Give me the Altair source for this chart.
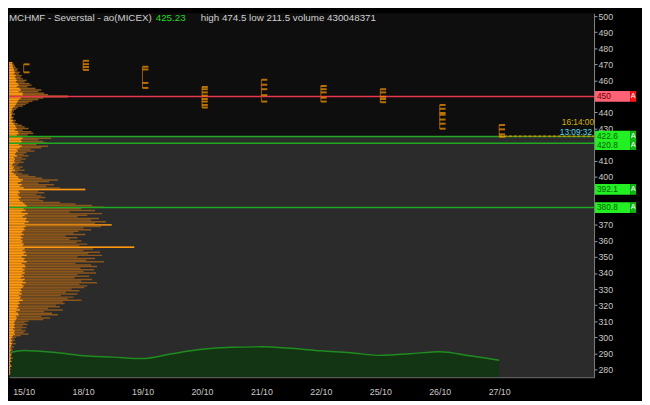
import altair as alt
import pandas as pd

# ---------------- data ----------------
days = ["15/10", "18/10", "19/10", "20/10", "21/10", "22/10", "25/10", "26/10", "27/10"]
day_high = [470.0, 472.2, 468.5, 455.9, 460.4, 456.5, 454.5, 444.7, 432.2]
day_low = [465.0, 466.5, 455.3, 443.1, 446.8, 446.8, 446.4, 429.9, 424.9]

tick_day = [0, 0,
            1, 1, 1, 1,
            2, 2, 2, 2,
            3, 3, 3, 3, 3, 3, 3, 3,
            4, 4, 4, 4, 4,
            5, 5, 5, 5, 5,
            6, 6, 6, 6, 6,
            7, 7, 7, 7, 7, 7, 7,
            8, 8, 8, 8]
tick_price = [465.0, 470.0,
              472.2, 470.1, 468.3, 466.5,
              468.5, 466.8, 458.4, 455.3,
              455.9, 454.5, 452.5, 450.5, 448.4, 446.8, 444.7, 443.1,
              460.4, 457.3, 454.5, 450.8, 446.8,
              456.5, 454.5, 452.5, 449.2, 446.8,
              454.5, 452.5, 449.8, 448.4, 446.4,
              444.7, 442.3, 439.7, 438.6, 435.6, 433.0, 429.9,
              432.2, 429.5, 426.4, 424.9]

# volume (bottom area), sampled every half day
vol_idx = [-0.24, 0, 0.5, 1, 1.5, 2, 2.5, 3, 3.5, 4, 4.5, 5, 5.5, 6, 6.5, 7, 7.5, 8]
vol_val = [250, 273, 255, 220, 205, 190, 240, 285, 305, 310, 295, 270, 250, 223, 240, 260, 220, 173]

# volume-at-price profile, price levels 471 .. 277
prof_price = list(range(471, 276, -1))
profile_total = [
    4, 5, 6, 7, 9, 8, 11, 10, 13, 12,
    14, 18, 16, 21, 23, 19, 27, 33, 30, 36,
    40, 60, 35, 30, 24, 20, 17, 14, 9, 7,
    5, 4, 6, 3, 5, 4, 7, 6, 9, 13,
    16, 20, 14, 23, 25, 19, 27, 43, 30, 35,
    38, 28, 40, 33, 22, 26, 18, 15, 20, 13,
    17, 12, 15, 10, 8, 14, 11, 16, 9, 13,
    20, 27, 34, 50, 41, 30, 46, 38, 52, 78,
    30, 36, 28, 33, 37, 31, 35, 52, 68, 85,
    97, 74, 88, 62, 95, 80, 70, 92, 84, 99,
    88, 105, 94, 76, 84, 71, 66, 78, 58, 70,
    62, 74, 69, 80, 72, 128, 86, 76, 93, 81,
    95, 70, 88, 79, 97, 68, 84, 90, 73, 87,
    76, 89, 70, 82, 67, 85, 74, 90, 72, 80,
    77, 64, 72, 58, 70, 53, 66, 60, 74, 55,
    57, 48, 52, 40, 55, 36, 44, 50, 33, 42,
    35, 20, 16, 19, 14, 18, 13, 17, 15, 20,
    12, 7, 5, 6, 4, 7, 3, 5, 3, 4,
    2, 3, 3, 2, 4, 2, 3, 1, 2, 3,
    1, 2, 1, 2, 1]
profile_bright = [
    3, 3, 4, 4, 5, 5, 6, 5, 7, 6,
    7, 8, 7, 9, 10, 8, 11, 12, 10, 14,
    14, 60, 12, 10, 9, 8, 7, 6, 4, 3,
    3, 2, 3, 2, 3, 2, 4, 3, 5, 6,
    7, 8, 6, 9, 10, 8, 11, 14, 12, 13,
    12, 10, 13, 11, 8, 9, 7, 6, 8, 5,
    6, 5, 6, 4, 3, 5, 4, 6, 3, 5,
    7, 9, 10, 14, 12, 9, 13, 11, 15, 78,
    10, 11, 9, 10, 12, 10, 11, 14, 16, 18,
    18, 15, 17, 13, 19, 16, 14, 18, 17, 20,
    16, 105, 17, 15, 16, 14, 13, 15, 12, 14,
    12, 14, 13, 15, 14, 128, 16, 14, 17, 15,
    18, 13, 16, 15, 18, 13, 16, 17, 14, 16,
    14, 16, 13, 15, 12, 16, 14, 17, 13, 15,
    14, 12, 13, 11, 13, 10, 12, 11, 14, 10,
    11, 9, 10, 8, 11, 7, 9, 10, 7, 8,
    7, 6, 5, 6, 5, 6, 4, 6, 5, 6,
    4, 3, 2, 3, 2, 3, 2, 2, 1, 2,
    1, 1, 2, 1, 2, 1, 2, 1, 1, 2,
    1, 1, 1, 1, 1]

line_levels = [450.0, 425.0, 420.8, 380.8]
line_kind = ["red", "green", "green", "green"]

box_pos = [420.0, 450.0, 425.3, 392.1, 380.8]
box_text = ["420.8", "450", "422.6", "392.1", "380.8"]
box_kind = ["green", "red", "green", "green", "green"]
box_front = [0, 1, 1, 1, 1]

current_price = 425.23
last_time = "16:14:00"
server_time = "13:09:32"
title_name = "MCHMF - Severstal - ao(MICEX)"
title_price = "425.23"
title_stats = "high 474.5 low 211.5 volume 430048371"
price_ticks = list(range(280, 501, 10))
covered_ticks = [450, 420, 390, 380]   # axis labels hidden behind the alert boxes

# ---------------- layout ----------------
W, H = 598, 372
FONT = "Liberation Sans"
yscale = alt.Scale(domain=[275.12, 501.83], nice=False, zero=False)
xscale = alt.Scale(domain=[-0.247, 9.597], nice=False, zero=False)
pscale = alt.Scale(domain=[0, 598], nice=False)
vscale = alt.Scale(domain=[0, 3720], nice=False)

label_expr = "[" + ",".join(f"'{d}'" for d in days) + "][datum.value]"
ylabel_expr = "indexof([" + ",".join(str(v) for v in covered_ticks) + "], datum.value) >= 0 ? '' : datum.label"
xaxis = alt.Axis(values=list(range(len(days))), labelExpr=label_expr, title=None,
                 labelColor="#c8c8c8", labelFont=FONT, labelFontSize=9, ticks=False,
                 domainColor="#8a8a8a", labelPadding=11, grid=False, labelFlush=False)
yaxis = alt.Axis(orient="right", values=price_ticks, title=None, labelColor="#c8c8c8",
                 labelFont=FONT, labelFontSize=9, tickColor="#a0a0a0", tickSize=3,
                 domainColor="#8a8a8a", labelPadding=1, grid=False, labelOverlap=False,
                 labelFlush=False, labelExpr=ylabel_expr)

df_days = pd.DataFrame({"idx": list(range(len(days))), "day": days,
                        "high": day_high, "low": day_low})
df_ticks = pd.DataFrame({"idx": tick_day, "price": tick_price})
df_vol = pd.DataFrame({"idx": vol_idx, "vol": vol_val})
df_prof = pd.DataFrame({"price": prof_price, "total": profile_total, "bright": profile_bright})
df_lines = pd.DataFrame({"price": line_levels, "kind": line_kind})
df_box = pd.DataFrame({"price": box_pos, "label": box_text, "kind": box_kind, "front": box_front})
df_cur = pd.DataFrame({"idx": [len(days) - 1], "price": [current_price],
                       "t1": [last_time], "t2": [server_time]})

# background shading below current price
bg = alt.Chart(df_cur).mark_rect(color="#2b2b2b").encode(
    x=alt.value(0), x2=alt.value(W),
    y=alt.Y("price:Q", scale=yscale, axis=None), y2=alt.value(H))

# volume area
vol = alt.Chart(df_vol).mark_area(
    color="#0b3a0b", interpolate="monotone", clip=True,
    line={"color": "#1f8c1f", "strokeWidth": 1.5}).encode(
    x=alt.X("idx:Q", scale=xscale, axis=None),
    y=alt.Y("vol:Q", scale=vscale, axis=None))

# volume profile
prof_brown = alt.Chart(df_prof).mark_rule(color="#8a561c", strokeWidth=1.5).encode(
    x=alt.X("total:Q", scale=pscale, axis=None), x2=alt.value(0),
    y=alt.Y("price:Q", scale=yscale, axis=None))
prof_bright = alt.Chart(df_prof).mark_rule(color="#ff9a10", strokeWidth=1.5).encode(
    x=alt.X("bright:Q", scale=pscale, axis=None), x2=alt.value(0),
    y=alt.Y("price:Q", scale=yscale, axis=None))
prof = alt.layer(prof_brown, prof_bright)

kind_color = lambda red, green: alt.condition("datum.kind == 'red'", alt.value(red), alt.value(green))
Yp = alt.Y("price:Q", scale=yscale, axis=yaxis)

lines = alt.Chart(df_lines).mark_rule(strokeWidth=1.5).encode(
    x=alt.value(0), x2=alt.value(W), y=Yp, color=kind_color("#e8364f", "#20a820"))

cur_line = alt.Chart(df_cur).mark_rule(color="#d98a00", strokeDash=[3, 2], strokeWidth=1.5).encode(
    x=alt.X("idx:Q", scale=xscale, axis=xaxis), x2=alt.value(W), y=Yp)

day_rules = alt.Chart(df_days).mark_rule(color="#9c5812", strokeWidth=1).encode(
    x=alt.X("idx:Q", scale=xscale, axis=xaxis),
    y=alt.Y("low:Q", scale=yscale, axis=yaxis), y2="high:Q")

ticks = alt.Chart(df_ticks).mark_tick(orient="horizontal", size=6, thickness=2,
                                      xOffset=3, color="#ff9a00").encode(
    x=alt.X("idx:Q", scale=xscale, axis=xaxis), y=Yp)

times1 = alt.Chart(df_cur).mark_text(align="right", baseline="middle", dy=-14,
                                     font=FONT, fontSize=8.5, color="#d8b400").encode(
    x=alt.value(W), y=Yp, text="t1:N")
times2 = alt.Chart(df_cur).mark_text(align="right", baseline="middle", dy=-4,
                                     font=FONT, fontSize=8.5, color="#5ad8f0").encode(
    x=alt.value(W - 2), y=Yp, text="t2:N")

box_layers = []
for fr in (0, 1):
    base = alt.Chart(df_box).transform_filter(f"datum.front == {fr}")
    box_layers.append(base.mark_rule(strokeWidth=11, strokeCap="butt").encode(
        x=alt.value(599), x2=alt.value(635), y=Yp, color=kind_color("#ff6275", "#22f022")))
    box_layers.append(base.mark_rule(strokeWidth=11, strokeCap="butt").encode(
        x=alt.value(635), x2=alt.value(641), y=Yp, color=kind_color("#ff1414", "#12b812")))
    box_layers.append(base.mark_text(align="left", baseline="middle", font=FONT, fontSize=8.5).encode(
        x=alt.value(601), y=Yp, text="label:N", color=kind_color("#6a0000", "#066006")))
    box_layers.append(base.mark_text(align="center", baseline="middle", font=FONT, fontSize=7.5,
                                     color="#ffffff").encode(
        x=alt.value(638), y=Yp, text=alt.value("A")))

def title_text(txt, x, color):
    return alt.Chart(pd.DataFrame({"t": [txt]})).mark_text(
        align="left", baseline="top", font=FONT, fontSize=10, color=color).encode(
        x=alt.value(x), y=alt.value(0), text="t:N")

titles = [title_text(title_name, 0, "#d0d0d0"),
          title_text(title_price, 150, "#22dd22"),
          title_text(title_stats, 196, "#d0d0d0")]

main = alt.layer(lines, cur_line, day_rules, ticks, times1, times2, *box_layers, *titles)

chart = alt.layer(bg, vol, prof, main).resolve_scale(
    x="independent", y="independent").properties(
    width=W, height=H, padding=0, background="#000000").configure_view(
    stroke=None, fill="#0e0e0e").configure_axis(grid=False)

chart.save("out.html", embed_options={"renderer": "svg", "actions": False})
